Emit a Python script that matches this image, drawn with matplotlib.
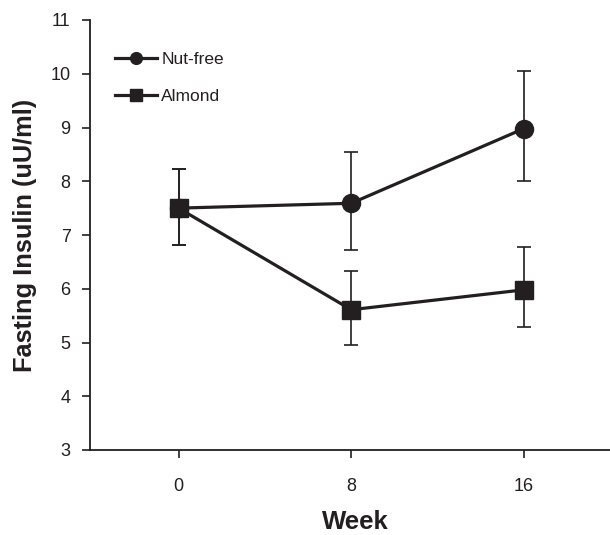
import matplotlib
matplotlib.use("Agg")
import matplotlib.pyplot as plt

plt.rcParams['font.family'] = ['Liberation Sans', 'DejaVu Sans']

weeks = [0, 8, 16]
nutfree = [7.50, 7.59, 8.98]
nutfree_lo = [6.81, 6.72, 8.00]
nutfree_hi = [8.23, 8.54, 10.05]
almond = [7.50, 5.61, 5.98]
almond_lo = [6.81, 4.96, 5.28]
almond_hi = [8.23, 6.33, 6.78]
yticks = [3, 4, 5, 6, 7, 8, 9, 10, 11]
xticks = [0, 8, 16]

col = '#231f20'
fig = plt.figure(figsize=(6.10, 5.35), dpi=100)
ax = fig.add_axes([90/610, 1-450/535, 530/610, 430/535])

def err(v, lo, hi):
    return [[a - b for a, b in zip(v, lo)], [b - a for a, b in zip(v, hi)]]

ax.errorbar(weeks, nutfree, yerr=err(nutfree, nutfree_lo, nutfree_hi), color=col,
            lw=2.3, marker='o', ms=13, elinewidth=1.2, capsize=5, capthick=1.2,
            label='Nut-free', zorder=3)
ax.errorbar(weeks, almond, yerr=err(almond, almond_lo, almond_hi), color=col,
            lw=2.3, marker='s', ms=12.5, elinewidth=1.2, capsize=5, capthick=1.2,
            label='Almond', zorder=4)

ax.set_xlim(-4.1, 20.45)
ax.set_ylim(3, 11)
ax.set_xticks(xticks)
ax.set_yticks(yticks)
ax.spines['top'].set_visible(False)
ax.spines['right'].set_visible(False)
for s in ['left', 'bottom']:
    ax.spines[s].set_linewidth(1.3)
    ax.spines[s].set_color(col)
ax.tick_params(direction='out', length=6, width=1.2, colors=col, labelsize=13, pad=8)
ax.tick_params(axis='x', pad=14)
ax.set_xlabel('Week', fontsize=18.5, fontweight='bold', color=col, labelpad=11)
ax.set_ylabel('Fasting Insulin (uU/ml)', fontsize=18.3, fontweight='bold', color=col, labelpad=10)

from matplotlib.legend_handler import HandlerErrorbar
leg = ax.legend(loc='upper left', bbox_to_anchor=(0.025, 0.955), frameon=False, fontsize=12.5,
                handlelength=2.4, handletextpad=0.25, labelspacing=1.3, markerscale=0.65,
                borderpad=0.2,
                handler_map={type(ax.containers[0]): HandlerErrorbar(xerr_size=0, yerr_size=0)})
for t in leg.get_texts():
    t.set_color(col)

fig.savefig('out.png', dpi=100)
